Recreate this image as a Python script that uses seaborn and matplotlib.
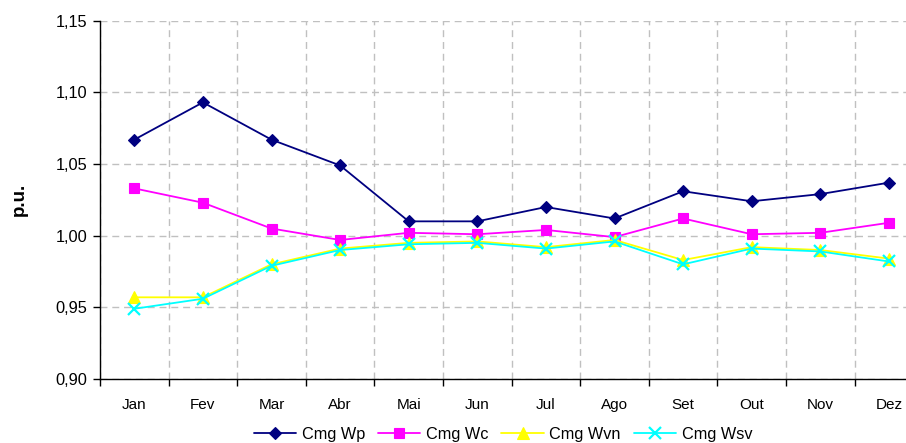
import matplotlib
matplotlib.use("Agg")
import matplotlib.pyplot as plt
from matplotlib.ticker import MultipleLocator, FuncFormatter
import numpy as np
import pandas as pd
import seaborn as sns

months = ["Jan", "Fev", "Mar", "Abr", "Mai", "Jun", "Jul", "Ago", "Set", "Out", "Nov", "Dez"]
cmg_wp = [1.067, 1.093, 1.067, 1.049, 1.010, 1.010, 1.020, 1.012, 1.031, 1.024, 1.029, 1.037]
cmg_wc = [1.033, 1.023, 1.005, 0.997, 1.002, 1.001, 1.004, 0.999, 1.012, 1.001, 1.002, 1.009]
cmg_wvn = [0.957, 0.957, 0.980, 0.991, 0.995, 0.996, 0.992, 0.997, 0.983, 0.992, 0.990, 0.984]
cmg_wsv = [0.949, 0.956, 0.979, 0.990, 0.994, 0.995, 0.991, 0.996, 0.980, 0.991, 0.989, 0.982]

series_names = ["Cmg Wp", "Cmg Wc", "Cmg Wvn", "Cmg Wsv"]
series_values = [cmg_wp, cmg_wc, cmg_wvn, cmg_wsv]

df = pd.concat(
    [pd.DataFrame({"pos": np.arange(len(months)), "mes": months, "valor": v, "serie": n})
     for n, v in zip(series_names, series_values)],
    ignore_index=True,
)

sns.set_theme(style="white")
plt.rcParams["font.family"] = ["Liberation Sans", "DejaVu Sans"]

fig = plt.figure(figsize=(9.06, 4.43), dpi=100)
ax = fig.add_axes([100 / 906, 1 - 379 / 443, 823.2 / 906, (379 - 20.7) / 443])

palette = {"Cmg Wp": "#000080", "Cmg Wc": "#ff00ff", "Cmg Wvn": "#ffff00", "Cmg Wsv": "#00ffff"}
markers = {"Cmg Wp": "D", "Cmg Wc": "s", "Cmg Wvn": "^", "Cmg Wsv": "x"}
sizes = {"Cmg Wp": 6.5, "Cmg Wc": 7, "Cmg Wvn": 8, "Cmg Wsv": 8}

for name in series_names:
    sub = df[df["serie"] == name]
    sns.lineplot(
        data=sub, x="pos", y="valor", ax=ax, color=palette[name],
        marker=markers[name], markersize=sizes[name], linewidth=1.3,
        markeredgecolor=palette[name], markerfacecolor=palette[name],
        markeredgewidth=1.6 if name == "Cmg Wsv" else 0.8,
        label=name, legend=False,
    )

ax.set_xlim(-0.5, 11.5)
ax.set_ylim(0.90, 1.15)
ax.yaxis.set_major_locator(MultipleLocator(0.05))
ax.yaxis.set_major_formatter(FuncFormatter(lambda v, p: f"{v:.2f}".replace(".", ",")))
ax.set_xticks(np.arange(len(months)))
ax.set_xticklabels(months)
ax.set_xticks(np.arange(-0.5, 12, 1), minor=True)

ax.grid(True, which="major", axis="y", color="#c0c0c0", linestyle=(0, (5, 3.5)), linewidth=1.0)
ax.grid(True, which="minor", axis="x", color="#c0c0c0", linestyle=(0, (5, 3.5)), linewidth=1.0)
ax.set_axisbelow(True)

for side in ["top", "right"]:
    ax.spines[side].set_visible(False)
for side in ["left", "bottom"]:
    ax.spines[side].set_color("black")
    ax.spines[side].set_linewidth(1.0)

ax.tick_params(axis="x", which="major", length=0, pad=14, labelsize=11, colors="black")
ax.tick_params(axis="x", which="minor", length=5, width=1, color="black", direction="out", bottom=True)
ax.tick_params(axis="y", which="major", length=5, width=1, color="black", direction="out", left=True,
               labelsize=11.8, labelcolor="black", pad=4)

ax.set_xlabel("")
ax.set_ylabel("p.u.", fontsize=13.5, fontweight="bold", labelpad=20, color="black")

handles, labels = ax.get_legend_handles_labels()
fig.legend(handles, labels, loc="center", bbox_to_anchor=(503 / 906, 1 - 434 / 443), ncol=4,
           frameon=False, fontsize=11.7, handlelength=2.6, columnspacing=0.8, handletextpad=0.35,
           borderaxespad=0, labelcolor="black")

fig.savefig("out.png", dpi=100)
